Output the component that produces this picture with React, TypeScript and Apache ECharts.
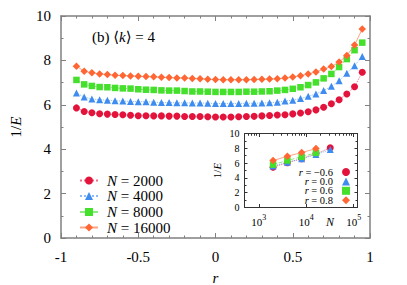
import React, { useEffect, useRef } from "react";
import * as echarts from "echarts";

const R = [
  -0.9, -0.85, -0.8, -0.75, -0.7, -0.65, -0.6, -0.55, -0.5, -0.45, -0.4, -0.35, -0.3, -0.25, -0.2, -0.15, -0.1, -0.05, 0,
  0.05, 0.1, 0.15, 0.2, 0.25, 0.3, 0.35, 0.4, 0.45, 0.5, 0.55, 0.6, 0.65, 0.7, 0.75, 0.8, 0.85, 0.9, 0.95,
];
const N2000 = [
  5.86, 5.7, 5.64, 5.6, 5.58, 5.56, 5.55, 5.53, 5.51, 5.51, 5.5, 5.5, 5.49, 5.49, 5.47, 5.47, 5.47, 5.46, 5.45,
  5.45, 5.45, 5.46, 5.47, 5.48, 5.5, 5.52, 5.54, 5.55, 5.59, 5.63, 5.69, 5.77, 5.89, 6.05, 6.23, 6.49, 6.81, 7.47,
];
const N4000 = [
  6.53, 6.35, 6.26, 6.23, 6.2, 6.18, 6.17, 6.15, 6.14, 6.14, 6.12, 6.1, 6.1, 6.09, 6.09, 6.08, 6.08, 6.07, 6.06,
  6.06, 6.06, 6.06, 6.07, 6.07, 6.08, 6.09, 6.12, 6.17, 6.21, 6.28, 6.38, 6.49, 6.64, 6.83, 7.08, 7.42, 7.76, 8.18,
];
const N8000 = [
  7.12, 6.92, 6.85, 6.8, 6.79, 6.76, 6.74, 6.73, 6.7, 6.68, 6.67, 6.65, 6.64, 6.64, 6.62, 6.6, 6.6, 6.59, 6.58,
  6.58, 6.58, 6.58, 6.59, 6.59, 6.6, 6.61, 6.64, 6.67, 6.72, 6.79, 6.89, 7.01, 7.19, 7.39, 7.7, 8.06, 8.46, 8.8,
];
const N16000 = [
  7.74, 7.51, 7.44, 7.39, 7.36, 7.33, 7.32, 7.3, 7.29, 7.27, 7.26, 7.24, 7.23, 7.21, 7.21, 7.19, 7.17, 7.15, 7.14,
  7.13, 7.13, 7.13, 7.13, 7.14, 7.15, 7.16, 7.17, 7.21, 7.25, 7.31, 7.39, 7.48, 7.61, 7.72, 7.93, 8.22, 8.69, 9.42,
];

const INSET_N5 = [2000, 4000, 8000, 16000, 32000];
const INSET_N4 = [2000, 4000, 8000, 16000];
const R_M06 = [5.45, 6.05, 6.6, 7.25, 8.06];
const R_00 = [5.6, 6.1, 6.6, 7.15, 7.83];
const R_06 = [5.8, 6.36, 6.86, 7.38];
const R_08 = [6.34, 6.93, 7.42, 7.96];

const MAIN_NAMES = ["N = 2000", "N = 4000", "N = 8000", "N = 16000"];
const INSET_NAMES = ["r = −0.6", "r = 0.0", "r = 0.6", "r = 0.8"];
const X_TICKS = [-1, -0.5, 0, 0.5, 1];
const Y_TICKS = [0, 2, 4, 6, 8, 10];

const RED = "#e3133c";
const BLUE = "#3f8cf0";
const GREEN = "#44e02c";
const ORANGE = "#ff6633";

const FONT = "Liberation Serif, DejaVu Serif, serif";

export default function App() {
  const ref = useRef<HTMLDivElement>(null);
  useEffect(() => {
    document.body.style.margin = "0";
    const chart = echarts.init(ref.current!, null, { renderer: "svg" });
    const lg = (v: number) => Math.log10(v);
    const xMin = lg(500);
    const xMax = lg(120000);
    const minor: number[] = [];
    [2, 3, 4].forEach((d) => {
      for (let k = 2; k <= 9; k++) {
        const v = lg(k * Math.pow(10, d));
        if (v > xMin && v < xMax) minor.push(v);
      }
    });
    const major = [3, 4, 5];
    const frame = { onZero: false, lineStyle: { color: "#808080", width: 1.5 } };
    const iframe = { onZero: false, lineStyle: { color: "#333", width: 1 } };
    const mainTick = { inside: true, length: 5, lineStyle: { color: "#808080", width: 1 } };
    const mainMinor = { show: true, length: 2.5, lineStyle: { color: "#808080", width: 1 } };
    const labelStyle = { fontFamily: FONT, fontSize: 15, color: "#000" };
    const series: any[] = [];
    const mainSets = [
      { d: N2000, c: RED, s: "circle", t: "dotted", sz: 7 },
      { d: N4000, c: BLUE, s: "triangle", t: "dotted", sz: 7 },
      { d: N8000, c: GREEN, s: "rect", t: "dashed", sz: 6.5 },
      { d: N16000, c: ORANGE, s: "diamond", t: "solid", sz: 7.5 },
    ];
    mainSets.forEach((m, i) => {
      series.push({
        type: "line",
        name: MAIN_NAMES[i],
        xAxisIndex: 0,
        yAxisIndex: 0,
        data: R.map((r, j) => [r, m.d[j]]),
        symbol: m.s,
        symbolSize: m.sz,
        itemStyle: { color: m.c },
        lineStyle: { color: m.c, width: 1, type: m.t, opacity: 0.6 },
        z: 2 + i,
      });
    });
    const insetSets = [
      { n: INSET_N5, d: R_M06, c: RED, s: "circle", t: "dotted", sz: 7 },
      { n: INSET_N5, d: R_00, c: BLUE, s: "triangle", t: "dotted", sz: 7 },
      { n: INSET_N4, d: R_06, c: GREEN, s: "rect", t: "dashed", sz: 6.5 },
      { n: INSET_N4, d: R_08, c: ORANGE, s: "diamond", t: "solid", sz: 7.5 },
    ];
    insetSets.forEach((m, i) => {
      series.push({
        type: "line",
        name: INSET_NAMES[i],
        xAxisIndex: 2,
        yAxisIndex: 2,
        data: m.n.map((n, j) => [lg(n), m.d[j]]),
        symbol: m.s,
        symbolSize: m.sz,
        itemStyle: { color: m.c },
        lineStyle: { color: m.c, width: 1, type: m.t, opacity: 0.6 },
        z: 10 + i,
      });
    });
    const mainTops = [173, 188.5, 204.5, 220];
    const mainLegends = MAIN_NAMES.map((nm, i) => ({
      data: [nm],
      orient: "vertical",
      left: 79,
      top: mainTops[i],
      itemWidth: 18,
      itemHeight: 10,
      itemGap: 0,
      padding: 0,
      selectedMode: false,
      formatter: (name: string) => name.replace("N", "{i|N}"),
      textStyle: {
        fontFamily: FONT,
        fontSize: 15,
        color: "#000",
        padding: [0, 0, 0, 4],
        rich: { i: { fontFamily: FONT, fontSize: 15, fontStyle: "italic", color: "#000" } },
      },
    }));
    const insetIcons = ["circle", "triangle", "rect", "diamond"];
    const insetLegends = INSET_NAMES.map((nm, i) => ({
      data: [{ name: nm, icon: insetIcons[i] }],
      right: 57,
      top: 166.5 + i * 9.4,
      align: "right",
      itemWidth: 8,
      itemHeight: 8,
      itemGap: 0,
      padding: 0,
      selectedMode: false,
      formatter: (name: string) => name.replace("r", "{i|r}"),
      textStyle: {
        fontFamily: FONT,
        fontSize: 10.5,
        lineHeight: 9,
        color: "#000",
        padding: [0, 4, 0, 0],
        rich: { i: { fontFamily: FONT, fontSize: 10.5, lineHeight: 9, fontStyle: "italic", color: "#000" } },
      },
    }));
    const option: any = {
      animation: false,
      backgroundColor: "#fff",
      textStyle: { fontFamily: FONT },
      grid: [
        { left: 61, right: 37, top: 16, bottom: 47, outerBoundsMode: "none", containLabel: false },
        { left: 244.5, top: 133.5, width: 113, height: 74, outerBoundsMode: "none", containLabel: false },
      ],
      legend: [...mainLegends, ...insetLegends],
      xAxis: [
        {
          gridIndex: 0,
          type: "value",
          min: -1,
          max: 1,
          interval: 0.5,
          axisLine: frame,
          axisTick: mainTick,
          minorTick: { ...mainMinor, splitNumber: 5 },
          splitLine: { show: false },
          axisLabel: { ...labelStyle, margin: 11, customValues: X_TICKS },
          name: "{i|r}",
          nameLocation: "middle",
          nameGap: 32,
          nameTextStyle: { rich: { i: { fontFamily: FONT, fontSize: 15, fontStyle: "italic", color: "#000" } } },
        },
        {
          gridIndex: 0,
          type: "value",
          position: "top",
          min: -1,
          max: 1,
          interval: 0.5,
          axisLine: frame,
          axisTick: mainTick,
          minorTick: { ...mainMinor, splitNumber: 5 },
          splitLine: { show: false },
          axisLabel: { show: false },
        },
        {
          gridIndex: 1,
          type: "value",
          min: xMin,
          max: xMax,
          axisLine: iframe,
          axisTick: { inside: true, length: 3.5, customValues: major, lineStyle: { color: "#333" } },
          splitLine: { show: false },
          axisLabel: {
            margin: 6,
            customValues: major,
            formatter: (v: number) => "{b|10}{s|" + Math.round(v) + "}",
            rich: {
              b: { fontFamily: FONT, fontSize: 11, color: "#000", verticalAlign: "bottom", lineHeight: 14 },
              s: { fontFamily: FONT, fontSize: 8, color: "#000", verticalAlign: "top", lineHeight: 14 },
            },
          },
        },
        {
          gridIndex: 1,
          type: "value",
          min: xMin,
          max: xMax,
          axisLine: { show: false, onZero: false },
          axisTick: { inside: true, length: 2, customValues: minor, lineStyle: { color: "#333" } },
          splitLine: { show: false },
          axisLabel: { show: false },
        },
        {
          gridIndex: 1,
          type: "value",
          position: "top",
          min: xMin,
          max: xMax,
          axisLine: iframe,
          axisTick: { inside: true, length: 3.5, customValues: major, lineStyle: { color: "#333" } },
          splitLine: { show: false },
          axisLabel: { show: false },
        },
        {
          gridIndex: 1,
          type: "value",
          position: "top",
          min: xMin,
          max: xMax,
          axisLine: { show: false, onZero: false },
          axisTick: { inside: true, length: 2, customValues: minor, lineStyle: { color: "#333" } },
          splitLine: { show: false },
          axisLabel: { show: false },
        },
      ],
      yAxis: [
        {
          gridIndex: 0,
          type: "value",
          min: 0,
          max: 10,
          interval: 2,
          axisLine: frame,
          axisTick: mainTick,
          minorTick: { ...mainMinor, splitNumber: 2 },
          splitLine: { show: false },
          axisLabel: { ...labelStyle, margin: 10, customValues: Y_TICKS },
          name: "1/{i|E}",
          nameLocation: "middle",
          nameRotate: 90,
          nameGap: 38,
          nameTextStyle: {
            fontFamily: FONT,
            fontSize: 15,
            color: "#000",
            rich: { i: { fontFamily: FONT, fontSize: 15, fontStyle: "italic", color: "#000" } },
          },
        },
        {
          gridIndex: 0,
          type: "value",
          position: "right",
          min: 0,
          max: 10,
          interval: 2,
          axisLine: frame,
          axisTick: mainTick,
          minorTick: { ...mainMinor, splitNumber: 2 },
          splitLine: { show: false },
          axisLabel: { show: false },
        },
        {
          gridIndex: 1,
          type: "value",
          min: 0,
          max: 10,
          interval: 2,
          axisLine: iframe,
          axisTick: { inside: true, length: 3, lineStyle: { color: "#333" } },
          minorTick: { show: true, splitNumber: 2, length: 2, lineStyle: { color: "#333" } },
          splitLine: { show: false },
          axisLabel: { fontFamily: FONT, fontSize: 10, color: "#000", margin: 5 },
          name: "1/{i|E}",
          nameLocation: "middle",
          nameRotate: 90,
          nameGap: 22,
          nameTextStyle: {
            fontFamily: FONT,
            fontSize: 11,
            color: "#000",
            rich: { i: { fontFamily: FONT, fontSize: 11, fontStyle: "italic", color: "#000" } },
          },
        },
        {
          gridIndex: 1,
          type: "value",
          position: "right",
          min: 0,
          max: 10,
          interval: 2,
          axisLine: iframe,
          axisTick: { inside: true, length: 3, lineStyle: { color: "#333" } },
          minorTick: { show: true, splitNumber: 2, length: 2, lineStyle: { color: "#333" } },
          splitLine: { show: false },
          axisLabel: { show: false },
        },
      ],
      graphic: [
        {
          type: "text",
          left: 92,
          top: 29,
          style: {
            text: "(b) ⟨{i|k}⟩ = 4",
            fontFamily: FONT,
            fontSize: 15,
            fill: "#000",
            rich: { i: { fontFamily: FONT, fontSize: 15, fontStyle: "italic", fill: "#000" } },
          },
        },
        {
          type: "text",
          left: 326,
          top: 216,
          style: { text: "N", fontFamily: FONT, fontSize: 12, fontStyle: "italic", fill: "#000" },
        },
      ],
      series,
    };
    chart.setOption(option);
    return () => chart.dispose();
  }, []);
  return <div ref={ref} style={{ width: 407, height: 285 }} />;
}
